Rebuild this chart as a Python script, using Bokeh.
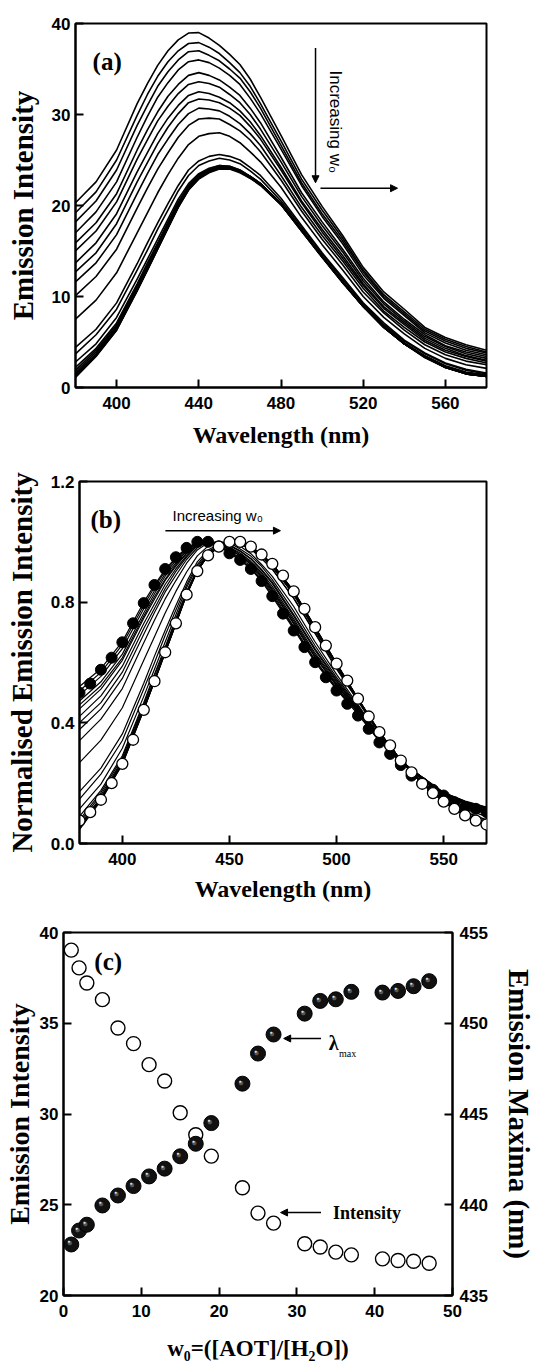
import math
from bokeh.plotting import figure
from bokeh.models import (Range1d, LinearAxis, FixedTicker, Arrow, NormalHead,
                          Label, PrintfTickFormatter)
from bokeh.core.properties import value
from bokeh.embed import file_html
from bokeh.resources import INLINE

# ---------------- DATA ----------------
# Panel (a): emission spectra (one per w0)
wavelength_a = [380, 390, 400, 410, 415, 420, 425, 430, 435, 440, 445, 450, 455, 460,
                465, 470, 480, 490, 500, 510, 520, 530, 540, 550, 560, 570, 580]
em_w0_01 = [20.3, 22.6, 26.1, 31.2, 33.4, 35.4, 37.0, 38.2, 38.95, 39.0, 38.4, 37.6, 36.6, 35.5, 33.9, 31.9, 27.7, 23.4, 19.9, 16.7, 13.2, 10.5, 8.6, 6.6, 5.5, 4.7, 4.1]
em_w0_02 = [19.2, 21.5, 25.0, 29.9, 32.2, 34.2, 35.8, 37.0, 37.8, 37.9, 37.4, 36.7, 35.7, 34.6, 33.1, 31.2, 27.1, 22.9, 19.5, 16.4, 12.9, 10.2, 8.3, 6.4, 5.3, 4.5, 3.9]
em_w0_03 = [18.2, 20.5, 23.9, 28.8, 31.0, 33.1, 34.7, 36.0, 36.9, 37.0, 36.5, 35.9, 35.0, 34.0, 32.5, 30.7, 26.6, 22.5, 19.1, 16.1, 12.7, 10.0, 8.1, 6.2, 5.1, 4.3, 3.8]
em_w0_05 = [17.0, 19.3, 22.6, 27.5, 29.8, 31.9, 33.5, 34.9, 35.8, 36.0, 35.7, 35.1, 34.3, 33.3, 31.8, 30.1, 26.2, 22.2, 18.8, 15.8, 12.4, 9.8, 7.9, 6.0, 4.9, 4.1, 3.6]
em_w0_07 = [15.9, 18.1, 21.3, 26.1, 28.3, 30.3, 32.0, 33.3, 34.3, 34.6, 34.3, 33.8, 33.0, 32.1, 30.7, 29.1, 25.3, 21.4, 18.2, 15.2, 12.0, 9.4, 7.5, 5.8, 4.6, 3.9, 3.4]
em_w0_09 = [15.0, 17.2, 20.4, 25.1, 27.2, 29.3, 30.9, 32.3, 33.3, 33.6, 33.4, 33.0, 32.2, 31.3, 30.0, 28.4, 24.8, 21.0, 17.8, 14.9, 11.7, 9.2, 7.3, 5.6, 4.5, 3.7, 3.2]
em_w0_11 = [13.7, 15.9, 19.1, 23.7, 25.8, 27.9, 29.6, 31.0, 32.1, 32.5, 32.3, 31.9, 31.3, 30.4, 29.2, 27.7, 24.2, 20.5, 17.4, 14.5, 11.4, 8.9, 7.1, 5.4, 4.3, 3.5, 3.0]
em_w0_13 = [12.7, 14.8, 18.0, 22.6, 24.7, 26.8, 28.6, 30.1, 31.3, 31.7, 31.6, 31.3, 30.7, 29.9, 28.7, 27.3, 23.9, 20.3, 17.1, 14.2, 11.2, 8.7, 6.9, 5.2, 4.1, 3.4, 2.9]
em_w0_15 = [11.6, 13.7, 16.8, 21.3, 23.5, 25.6, 27.3, 28.9, 30.1, 30.7, 30.6, 30.4, 29.8, 29.0, 27.9, 26.6, 23.3, 19.8, 16.7, 13.9, 10.9, 8.4, 6.6, 5.0, 3.9, 3.2, 2.7]
em_w0_17 = [10.1, 12.2, 15.2, 19.7, 21.9, 24.0, 25.8, 27.5, 28.8, 29.5, 29.6, 29.5, 28.9, 28.2, 27.2, 25.9, 22.8, 19.4, 16.3, 13.5, 10.5, 8.2, 6.3, 4.7, 3.6, 2.9, 2.5]
em_w0_19 = [7.5, 9.6, 12.6, 17.0, 19.2, 21.4, 23.4, 25.2, 26.7, 27.6, 27.9, 28.0, 27.6, 26.9, 25.9, 24.8, 22.0, 18.7, 15.7, 12.9, 10.0, 7.7, 5.9, 4.3, 3.2, 2.5, 2.1]
em_w0_23 = [4.4, 6.4, 9.3, 13.6, 15.9, 18.1, 20.2, 22.2, 23.9, 24.9, 25.4, 25.6, 25.4, 25.0, 24.2, 23.3, 20.8, 17.8, 14.8, 12.1, 9.3, 7.1, 5.2, 3.8, 2.7, 2.0, 1.6]
em_w0_25 = [3.7, 5.8, 8.6, 12.9, 15.1, 17.4, 19.5, 21.6, 23.3, 24.4, 24.9, 25.2, 25.0, 24.6, 23.8, 22.9, 20.5, 17.6, 14.7, 11.9, 9.2, 6.9, 5.1, 3.7, 2.6, 1.9, 1.5]
em_w0_27 = [2.8, 4.8, 7.7, 11.9, 14.1, 16.3, 18.5, 20.7, 22.4, 23.5, 24.1, 24.4, 24.3, 23.9, 23.2, 22.4, 20.1, 17.2, 14.4, 11.6, 9.0, 6.7, 4.9, 3.5, 2.4, 1.7, 1.4]
em_w0_31 = [2.2, 4.3, 7.1, 11.4, 13.7, 15.9, 18.2, 20.4, 22.2, 23.4, 24.0, 24.4, 24.3, 23.9, 23.2, 22.4, 20.2, 17.3, 14.4, 11.6, 9.0, 6.7, 4.9, 3.4, 2.3, 1.6, 1.3]
em_w0_33 = [1.9, 4.1, 6.9, 11.2, 13.5, 15.7, 18.0, 20.2, 22.1, 23.3, 23.9, 24.3, 24.2, 23.8, 23.2, 22.4, 20.2, 17.3, 14.4, 11.6, 8.9, 6.7, 4.8, 3.4, 2.3, 1.6, 1.3]
em_w0_35 = [1.7, 3.9, 6.7, 11.0, 13.2, 15.5, 17.8, 20.1, 21.95, 23.2, 23.9, 24.25, 24.2, 23.8, 23.2, 22.4, 20.2, 17.3, 14.4, 11.6, 8.9, 6.7, 4.8, 3.4, 2.3, 1.5, 1.25]
em_w0_37 = [1.5, 3.7, 6.6, 10.9, 13.1, 15.4, 17.7, 20.0, 21.9, 23.1, 23.8, 24.2, 24.2, 23.8, 23.2, 22.4, 20.2, 17.3, 14.4, 11.6, 8.9, 6.7, 4.8, 3.4, 2.3, 1.5, 1.2]
em_w0_41 = [1.4, 3.6, 6.5, 10.8, 13.0, 15.3, 17.6, 20.0, 21.8, 23.1, 23.8, 24.15, 24.15, 23.8, 23.1, 22.4, 20.2, 17.3, 14.4, 11.6, 8.9, 6.6, 4.8, 3.4, 2.2, 1.5, 1.2]
em_w0_43 = [1.3, 3.5, 6.4, 10.7, 13.0, 15.3, 17.6, 19.9, 21.8, 23.0, 23.7, 24.1, 24.1, 23.7, 23.1, 22.3, 20.1, 17.3, 14.4, 11.6, 8.9, 6.6, 4.8, 3.4, 2.2, 1.5, 1.2]
em_w0_45 = [1.2, 3.5, 6.3, 10.7, 12.9, 15.2, 17.5, 19.8, 21.7, 23.0, 23.7, 24.05, 24.05, 23.7, 23.0, 22.3, 20.1, 17.2, 14.3, 11.5, 8.9, 6.6, 4.8, 3.3, 2.2, 1.5, 1.2]
em_w0_47 = [1.1, 3.4, 6.3, 10.6, 12.9, 15.2, 17.5, 19.8, 21.7, 22.9, 23.6, 24.0, 24.0, 23.6, 23.0, 22.2, 20.1, 17.2, 14.3, 11.5, 8.9, 6.6, 4.8, 3.3, 2.2, 1.5, 1.2]

# Panel (b): normalised spectra of lowest (filled) and highest (open) w0, every 5 nm
wavelength_b = [380, 385, 390, 395, 400, 405, 410, 415, 420, 425, 430, 435, 440,
                445, 450, 455, 460, 465, 470, 475, 480, 485, 490, 495, 500, 505,
                510, 515, 520, 525, 530, 535, 540, 545, 550, 555, 560, 565, 570]
norm_low_w0 = [0.50, 0.53, 0.576, 0.616, 0.667, 0.73, 0.797, 0.857, 0.91, 0.949,
               0.98, 1.0, 1.0, 0.985, 0.962, 0.94, 0.91, 0.87, 0.82, 0.762, 0.706,
               0.651, 0.601, 0.551, 0.507, 0.463, 0.424, 0.38, 0.335, 0.297, 0.26,
               0.225, 0.20, 0.178, 0.159, 0.137, 0.12, 0.115, 0.104]
norm_high_w0 = [0.076, 0.104, 0.145, 0.20, 0.264, 0.344, 0.443, 0.538, 0.634, 0.73,
                0.825, 0.903, 0.955, 0.984, 1.0, 1.0, 0.984, 0.958, 0.927, 0.888,
                0.836, 0.778, 0.717, 0.656, 0.596, 0.54, 0.48, 0.421, 0.369, 0.325,
                0.275, 0.236, 0.198, 0.167, 0.139, 0.115, 0.093, 0.076, 0.063]

# Panel (c): intensity and emission maximum versus w0
w0_c = [1, 2, 3, 5, 7, 9, 11, 13, 15, 17, 19, 23, 25, 27, 31, 33, 35, 37, 41, 43, 45, 47]
intensity_c = [39.03, 38.05, 37.22, 36.3, 34.74, 33.88, 32.72, 31.82, 30.07, 28.86,
               27.68, 25.94, 24.54, 23.99, 22.85, 22.67, 22.39, 22.24, 22.02, 21.93,
               21.89, 21.78]
lambda_max_c = [437.81, 438.58, 438.9, 439.96, 440.51, 441.03, 441.56, 441.99, 442.67,
                443.36, 444.5, 446.67, 448.33, 449.38, 450.53, 451.23, 451.32, 451.73,
                451.69, 451.78, 452.04, 452.32]

spectra_a = [em_w0_01, em_w0_02, em_w0_03, em_w0_05, em_w0_07, em_w0_09, em_w0_11,
             em_w0_13, em_w0_15, em_w0_17, em_w0_19, em_w0_23, em_w0_25, em_w0_27,
             em_w0_31, em_w0_33, em_w0_35, em_w0_37, em_w0_41, em_w0_43, em_w0_45,
             em_w0_47]

ticks_a_x = [400, 440, 480, 520, 560]
ticks_a_y = [0, 10, 20, 30, 40]
ticks_b_x = [400, 450, 500, 550]
ticks_b_y = [0.0, 0.4, 0.8, 1.2]
ticks_c_x = [0, 10, 20, 30, 40, 50]
ticks_c_y = [20, 25, 30, 35, 40]
ticks_c_y2 = [435, 440, 445, 450, 455]

SERIF = "Liberation Serif"
SANS = "Liberation Sans"
W = 557


def style_axis(ax, title_size="29px", standoff_title=10, label_standoff=5):
    ax.major_tick_in = 8
    ax.major_tick_out = 0
    ax.minor_tick_line_color = None
    ax.axis_line_width = 2
    ax.major_tick_line_width = 2
    ax.major_label_text_font = SANS
    ax.major_label_text_font_style = "bold"
    ax.major_label_text_font_size = "17px"
    ax.major_label_text_color = "black"
    ax.major_label_standoff = label_standoff
    ax.axis_label_text_font = SERIF
    ax.axis_label_text_font_style = "bold"
    ax.axis_label_text_font_size = title_size
    ax.axis_label_text_color = "black"
    ax.axis_label_standoff = standoff_title


def base_fig(height, xr, yr, bl, br, bt, bb):
    p = figure(width=W, height=height, x_range=Range1d(*xr), y_range=Range1d(*yr),
               output_backend="svg", toolbar_location=None,
               min_border_left=bl, min_border_right=br, min_border_top=bt,
               min_border_bottom=bb)
    p.outline_line_color = "black"
    p.outline_line_width = 2
    p.outline_line_alpha = 1
    p.xgrid.visible = False
    p.ygrid.visible = False
    p.background_fill_color = "white"
    p.border_fill_color = "white"
    return p


def head():
    return NormalHead(size=7, fill_color="black", line_color="black")


# ---------------- PANEL (a) ----------------
pa = base_fig(450, (380, 580), (0, 40), 75, 71, 23, 63)
pa.multi_line(xs=[wavelength_a] * len(spectra_a), ys=spectra_a,
              line_color="black", line_width=1.6, line_join="round")
pa.xaxis.ticker = FixedTicker(ticks=ticks_a_x)
pa.yaxis.ticker = FixedTicker(ticks=ticks_a_y)
pa.xaxis.axis_label = "Wavelength (nm)"
pa.yaxis.axis_label = "Emission Intensity"
style_axis(pa.xaxis[0], "24px", 10, 9)
style_axis(pa.yaxis[0], "29px", 10, 5)
pa.add_layout(Label(x=388.3, y=35.8, text="(a)", text_font=SERIF, text_font_style="bold",
                    text_font_size="25px", text_baseline="middle", text_align="left",
                    text_color="black"))
pa.add_layout(Arrow(end=head(), x_start=496.8, y_start=37.3, x_end=496.8, y_end=22.5,
                    line_width=1.5, line_color="black"))
pa.add_layout(Arrow(end=head(), x_start=499.2, y_start=21.9, x_end=536.7, y_end=21.9,
                    line_width=1.5, line_color="black"))
pa.text(x=[506.5], y=[29.2], text=["Increasing w\u2080"], angle=-math.pi / 2,
        text_font=value(SANS), text_font_size="17px", text_align="center",
        text_baseline="middle", text_color="black")

# ---------------- PANEL (b) ----------------
pb = base_fig(455, (380, 570), (0, 1.2), 79, 71, 31, 62)
norm_lines = [[v / max(s) for v in s] for s in spectra_a]
pb.multi_line(xs=[wavelength_a] * len(norm_lines), ys=norm_lines,
              line_color="black", line_width=1.2, line_join="round")
pb.scatter(wavelength_b, norm_low_w0, marker="circle", size=11,
           fill_color="black", line_color="black", line_width=1)
pb.scatter(wavelength_b, norm_high_w0, marker="circle", size=11,
           fill_color="white", line_color="black", line_width=1.3)
pb.xaxis.ticker = FixedTicker(ticks=ticks_b_x)
pb.yaxis.ticker = FixedTicker(ticks=ticks_b_y)
pb.yaxis.formatter = PrintfTickFormatter(format="%.1f")
pb.xaxis.axis_label = "Wavelength (nm)"
pb.yaxis.axis_label = "Normalised Emission Intensity"
style_axis(pb.xaxis[0], "24px", 8, 9)
style_axis(pb.yaxis[0], "29px", 10, 5)
pb.add_layout(Label(x=385.1, y=1.074, text="(b)", text_font=SERIF, text_font_style="bold",
                    text_font_size="25px", text_baseline="middle", text_align="left",
                    text_color="black"))
pb.add_layout(Label(x=423.4, y=1.087, text="Increasing w\u2080", text_font=SANS,
                    text_font_size="15px", text_baseline="middle", text_align="left",
                    text_color="black"))
pb.add_layout(Arrow(end=head(), x_start=420.1, y_start=1.037, x_end=473.8, y_end=1.037,
                    line_width=1.5, line_color="black"))

# ---------------- PANEL (c) ----------------
pc = base_fig(459, (0, 50), (20, 40), 61, 105, 27, 69)
pc.extra_y_ranges = {"right": Range1d(435, 455)}
right_axis = LinearAxis(y_range_name="right")
pc.add_layout(right_axis, "right")
pc.scatter(w0_c, intensity_c, marker="circle", size=14, fill_color="white",
           line_color="black", line_width=1.4)
pc.scatter(w0_c, lambda_max_c, y_range_name="right", marker="circle", size=15,
           fill_color="#111111", line_color="black", line_width=1)
pc.text(x=w0_c, y=lambda_max_c, y_range_name="right", text=value("\u25cf"),
        x_offset=-1.5, y_offset=-1.5, text_color="#555555", text_font_size="10px",
        text_align="center", text_baseline="middle")
pc.text(x=w0_c, y=lambda_max_c, y_range_name="right", text=value("\u25cf"),
        x_offset=-2.5, y_offset=-3, text_color="#dddddd", text_font_size="5px",
        text_align="center", text_baseline="middle")
pc.xaxis.ticker = FixedTicker(ticks=ticks_c_x)
pc.yaxis[0].ticker = FixedTicker(ticks=ticks_c_y)
right_axis.ticker = FixedTicker(ticks=ticks_c_y2)
pc.xaxis.axis_label = "w\u2080=([AOT]/[H\u2082O])"
pc.yaxis[0].axis_label = "Emission Intensity"
right_axis.axis_label = "Emission Maxima (nm)"
style_axis(pc.xaxis[0], "23px", 16, 9)
style_axis(pc.yaxis[0], "28px", 2, 5)
style_axis(right_axis, "29px", 12, 7)
pc.add_layout(Label(x=3.96, y=38.4, text="(c)", text_font=SERIF, text_font_style="bold",
                    text_font_size="25px", text_baseline="middle", text_align="left",
                    text_color="black"))
pc.add_layout(Arrow(end=head(), x_start=33.1, y_start=449.16, x_end=28.3, y_end=449.16,
                    y_range_name="right", line_width=1.5, line_color="black"))
pc.add_layout(Label(x=34.1, y=448.9, y_range_name="right", text="\u03bb",
                    text_font=SERIF, text_font_style="bold", text_font_size="20px",
                    text_baseline="middle", text_align="left", text_color="black"))
pc.add_layout(Label(x=35.4, y=448.35, y_range_name="right", text="max",
                    text_font=SERIF, text_font_size="10px", text_baseline="middle",
                    text_align="left", text_color="black"))
pc.add_layout(Arrow(end=head(), x_start=33.1, y_start=24.57, x_end=27.9, y_end=24.57,
                    line_width=1.5, line_color="black"))
pc.add_layout(Label(x=34.65, y=24.52, text="Intensity", text_font=SERIF,
                    text_font_style="bold", text_font_size="18px",
                    text_baseline="middle", text_align="left", text_color="black"))

# three independent roots stacked vertically (no frame alignment between panels)
open("out.html", "w").write(file_html([pa, pb, pc], INLINE))
